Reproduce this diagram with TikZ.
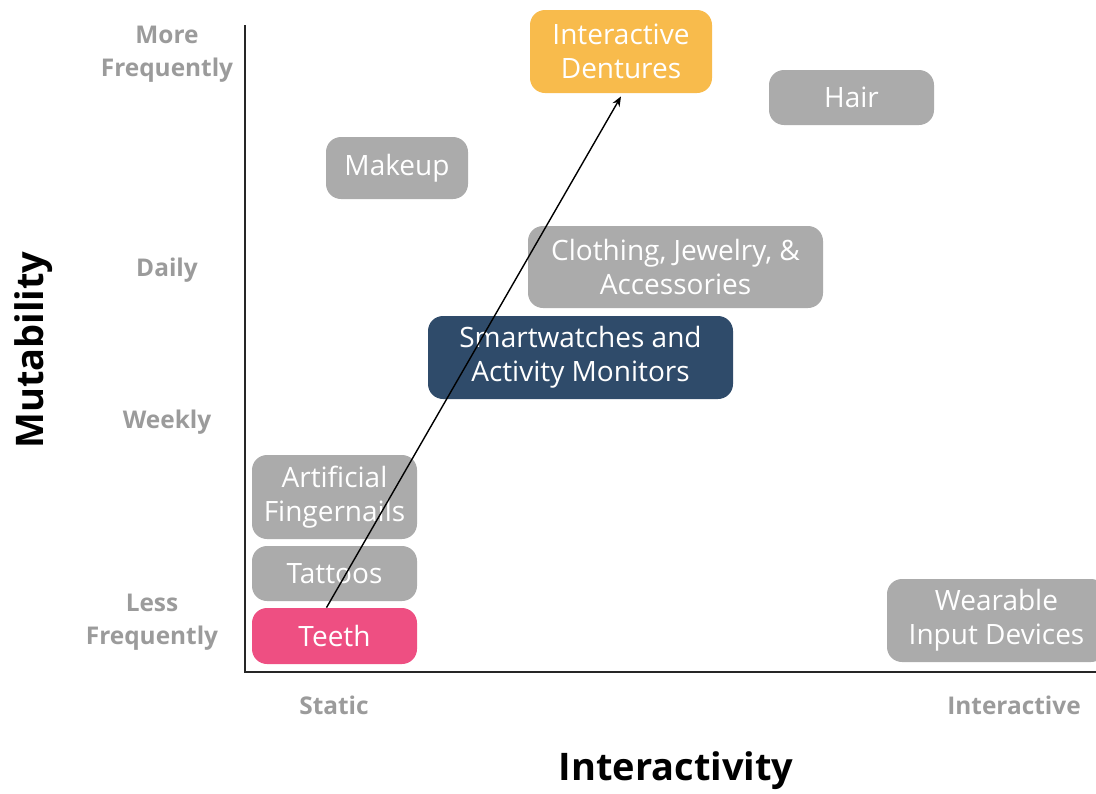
\documentclass[tikz,border=0pt]{standalone}
\usepackage{fontspec}
\setmainfont{Open Sans}
\usetikzlibrary{arrows.meta}
\definecolor{boxgray}{HTML}{ABABAB}
\definecolor{tickgray}{HTML}{9B9B9B}
\definecolor{dentorange}{HTML}{F8BB4C}
\definecolor{watchblue}{HTML}{2F4B6A}
\definecolor{teethpink}{HTML}{EE4F82}
\begin{document}
\begin{tikzpicture}[
   x=0.5pt, y=-0.5pt,
   box/.style={fill=boxgray, text=white, rounded corners=7.5pt, align=center, inner sep=0pt,
     font=\fontsize{14}{17}\selectfont},
   tick/.style={text=tickgray, align=center, font=\bfseries\fontsize{12.2}{16.5}\selectfont},
   axtitle/.style={font=\bfseries\fontsize{19}{23}\selectfont},
   axis/.style={line width=1pt, draw=black!85},
   arr/.style={-{Stealth[length=5pt, width=4pt]}, line width=0.7pt}]
   \useasboundingbox (0,0) rectangle (1096,793);
   % axes
   \coordinate (origin) at (245,672);
   \coordinate (ytop) at (245,25);
   \coordinate (xend) at (1096,672);
   \draw[axis] (ytop) -- (origin) -- (xend);
   % tick labels
   \node[tick] (more) at (167,54) {More\\Frequently};
   \node[tick] (daily) at (167,270) {Daily};
   \node[tick] (weekly) at (167,422) {Weekly};
   \node[tick] (less) at (152,622) {Less\\Frequently};
   \node[tick] (static) at (334,705) {Static};
   \node[tick] (inter) at (1014,705) {Interactive};
   \node[axtitle] (xtitle) at (676,771) {Interactivity};
   \node[axtitle, rotate=90] (ytitle) at (34,350) {Mutability};
   % boxes
   \node[box, fill=dentorange, minimum width=91pt, minimum height=41.5pt] (dent) at (621,51.5) {Interactive\\Dentures};
   \node[box, minimum width=82.5pt, minimum height=27.5pt] (hair) at (851.5,97.5) {Hair};
   \node[box, minimum width=71pt, minimum height=31pt] (makeup) at (397,168) {Makeup};
   \node[box, minimum width=147.5pt, minimum height=41pt] (cloth) at (675.5,267) {Clothing, Jewelry, \&\\Accessories};
   \node[box, fill=watchblue, minimum width=152.5pt, minimum height=41.5pt] (watch) at (580.5,357.5) {Smartwatches and\\Activity Monitors};
   \node[box, minimum width=82.5pt, minimum height=42pt] (nails) at (334.5,497) {Artificial\\Fingernails};
   \node[box, minimum width=82.5pt, minimum height=27.5pt] (tattoo) at (334.5,573.5) {Tattoos};
   \node[box, fill=teethpink, minimum width=82.5pt, minimum height=28pt] (teeth) at (334.5,636) {Teeth};
   \node[box, minimum width=109.5pt, minimum height=41.5pt] (wear) at (996.5,620.5) {Wearable\\Input Devices};
   % trajectory
   \draw[arr] ([xshift=-4pt]teeth.north) -- ([yshift=-1.5pt]dent.south);
\end{tikzpicture}
\end{document}
